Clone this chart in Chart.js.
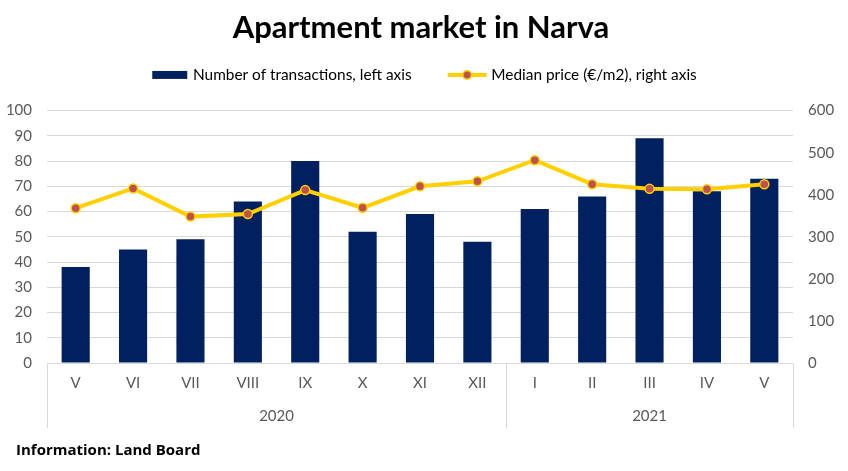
<!DOCTYPE html>
<html>
<head>
<meta charset="utf-8">
<script src="https://cdn.jsdelivr.net/npm/chart.js@4"></script>
<style>
html, body { margin: 0; padding: 0; background: #fff; }
#wrap { width: 848px; height: 471px; position: relative; }
</style>
</head>
<body>
<div id="wrap"><canvas id="narvaChart"></canvas></div>
<script>
const months = ['V', 'VI', 'VII', 'VIII', 'IX', 'X', 'XI', 'XII', 'I', 'II', 'III', 'IV', 'V'];
const years = ['2020', '2021'];
const yearSpans = [8, 5];
const transactions = [38, 45, 49, 64, 80, 52, 59, 48, 61, 66, 89, 68, 73];
const medianPrice = [368, 415, 348, 354, 411, 369, 420, 432, 482, 425, 414, 413, 425];
const sourceNote = 'Information: Land Board';

const navy = '#002060';
const gold = '#FFD000';
const dotRed = '#C0504D';
const textGray = '#595959';
const gridGray = '#d9d9d9';
const fontName = 'Lato, "Open Sans", sans-serif';
const boxW = 52;
const swatchW = 60;

// legend swatches (transparent on the left so items sit like Excel's)
function barSwatch() {
    const c = document.createElement('canvas');
    c.width = swatchW; c.height = 10;
    const g = c.getContext('2d');
    g.fillStyle = navy;
    g.fillRect(swatchW - 37, 1, 35, 8);
    return c;
}
function lineSwatch() {
    const c = document.createElement('canvas');
    c.width = swatchW; c.height = 12;
    const g = c.getContext('2d');
    g.strokeStyle = gold;
    g.lineWidth = 4;
    g.beginPath(); g.moveTo(swatchW - 40, 6); g.lineTo(swatchW - 1, 6); g.stroke();
    g.fillStyle = dotRed;
    g.lineWidth = 1.5;
    g.beginPath(); g.arc(swatchW - 20.5, 6, 4.3, 0, Math.PI * 2); g.fill(); g.stroke();
    return c;
}

const boxNudge = {
    id: 'boxNudge',
    beforeInit(chart) {
        const fit = chart.legend.fit;
        chart.legend.fit = function () {
            fit.bind(chart.legend)();
            this.height += 18;
        };
    },
    afterLayout(chart) {
        chart.legend.left -= 3;
        chart.legend.right -= 3;
        chart.titleBlock.left += 3;
        chart.titleBlock.right += 3;
    }
};

const yearRow = {
    id: 'yearRow',
    afterDraw(chart) {
        const ctx = chart.ctx;
        const x = chart.scales.x;
        const top = chart.chartArea.bottom;
        const half = (x.getPixelForValue(1) - x.getPixelForValue(0)) / 2;
        ctx.save();
        ctx.strokeStyle = gridGray;
        ctx.lineWidth = 1;
        ctx.fillStyle = textGray;
        ctx.font = '15px ' + fontName;
        ctx.textAlign = 'center';
        ctx.textBaseline = 'middle';
        let start = 0;
        let left = 0, right = 0;
        years.forEach((yr, i) => {
            left = x.getPixelForValue(start) - half;
            right = x.getPixelForValue(start + yearSpans[i] - 1) + half;
            ctx.beginPath();
            ctx.moveTo(Math.round(left) + 0.5, top);
            ctx.lineTo(Math.round(left) + 0.5, top + 65);
            ctx.stroke();
            ctx.fillText(yr, (left + right) / 2, top + 53);
            start += yearSpans[i];
        });
        ctx.beginPath();
        ctx.moveTo(Math.round(right) + 0.5, top);
        ctx.lineTo(Math.round(right) + 0.5, top + 65);
        ctx.stroke();

        ctx.fillStyle = '#000';
        ctx.font = 'bold 15px "Open Sans", sans-serif';
        ctx.textAlign = 'left';
        ctx.fillText(sourceNote, 16, top + 88);
        ctx.restore();
    }
};

const ctx = document.getElementById('narvaChart').getContext('2d');

new Chart(ctx, {
    data: {
        labels: months,
        datasets: [{
            type: 'line',
            label: 'Median price (€/m2), right axis',
            data: medianPrice,
            yAxisID: 'y1',
            borderColor: gold,
            borderWidth: 4,
            pointRadius: 4.5,
            pointBackgroundColor: dotRed,
            pointBorderColor: gold,
            pointBorderWidth: 1.5,
            tension: 0,
            order: 0
        }, {
            type: 'bar',
            label: 'Number of transactions, left axis',
            data: transactions,
            yAxisID: 'y',
            backgroundColor: navy,
            barPercentage: 0.49,
            categoryPercentage: 1,
            order: 1
        }]
    },
    options: {
        responsive: true,
        maintainAspectRatio: false,
        animation: false,
        layout: {
            padding: { left: 0, right: 12, top: 0, bottom: 76 }
        },
        scales: {
            x: {
                offset: true,
                grid: { display: false },
                border: { color: gridGray },
                ticks: {
                    color: textGray,
                    font: { family: fontName, size: 15 },
                    padding: 3,
                    maxRotation: 0,
                    autoSkip: false
                }
            },
            y: {
                position: 'left',
                min: 0,
                max: 100,
                afterFit(scale) { scale.width = 47; },
                ticks: {
                    stepSize: 10,
                    color: textGray,
                    font: { family: fontName, size: 15 },
                    padding: 15
                },
                grid: { color: gridGray, drawTicks: false },
                border: { display: false }
            },
            y1: {
                position: 'right',
                min: 0,
                max: 600,
                afterFit(scale) { scale.width = 43; },
                ticks: {
                    stepSize: 100,
                    color: textGray,
                    font: { family: fontName, size: 15 },
                    padding: 15
                },
                grid: { drawOnChartArea: false, drawTicks: false },
                border: { display: false }
            }
        },
        plugins: {
            title: {
                display: true,
                text: 'Apartment market in Narva',
                color: '#000',
                font: { family: fontName, size: 31, weight: 'bold' },
                padding: { top: 9, bottom: 1 }
            },
            legend: {
                display: true,
                labels: {
                    usePointStyle: true,
                    pointStyleWidth: boxW,
                    color: textGray,
                    font: { family: fontName, size: 15.4 },
                    padding: 20,
                    generateLabels(chart) {
                        return [{
                            text: chart.data.datasets[1].label,
                            pointStyle: barSwatch(),
                            fillStyle: navy,
                            strokeStyle: navy,
                            lineWidth: 0,
                            hidden: false,
                            datasetIndex: 1
                        }, {
                            text: chart.data.datasets[0].label,
                            pointStyle: lineSwatch(),
                            fillStyle: gold,
                            strokeStyle: gold,
                            lineWidth: 0,
                            hidden: false,
                            datasetIndex: 0
                        }];
                    }
                }
            },
            tooltip: { enabled: false }
        }
    },
    plugins: [boxNudge, yearRow]
});
</script>
</body>
</html>
